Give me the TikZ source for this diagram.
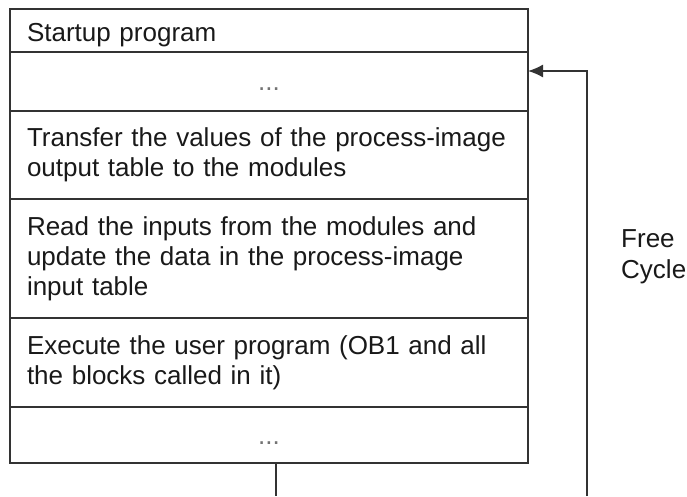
\documentclass[tikz,border=0pt]{standalone}
\usepackage{fontspec}
\setmainfont{Liberation Sans}
\usetikzlibrary{arrows.meta, positioning}

\begin{document}
\begin{tikzpicture}[x=1pt, y=-1pt,
    row/.style={rectangle, draw=black!80, line width=1.5pt, text width=484pt, inner xsep=17pt, inner ysep=0pt, outer sep=0pt, align=left, text=black!90, font=\fontsize{26}{30}\selectfont},
    dotrow/.style={row, align=center, text=black!55, text height=18pt, text depth=0pt},
    arrow/.style={-{Latex[length=15pt, width=13pt]}, line width=1.5pt, draw=black!80},
    line/.style={line width=1.5pt, draw=black!80}
]
\useasboundingbox (0,0) rectangle (687,496);

\node[row, anchor=north west, minimum height=43pt, text height=22pt, text depth=0pt] (start) at (10,9) {Startup program};
\node[dotrow, below=0pt of start, minimum height=59pt] (dots1) {...};
\node[row, below=0pt of dots1, minimum height=88pt] (transfer) {Transfer the values of the process-image\\output table to the modules};
\node[row, below=0pt of transfer, minimum height=119pt] (read) {Read the inputs from the modules and\\update the data in the process-image\\input table};
\node[row, below=0pt of read, minimum height=89pt] (execute) {Execute the user program (OB1 and all\\the blocks called in it)};
\node[dotrow, below=0pt of execute, minimum height=56pt] (dots2) {...};

\node[font=\fontsize{26}{31}\selectfont, align=left, anchor=west, inner sep=0pt, text=black!90] (freelabel) at (621,257) {Free\\Cycle};

\coordinate (loopend) at (587,496);
\coordinate (exitend) at (276,496);

\draw[arrow] (loopend) |- ([yshift=10.5pt]dots1.east);
\draw[line] ([xshift=7pt]dots2.south) -- (exitend);

\end{tikzpicture}
\end{document}
